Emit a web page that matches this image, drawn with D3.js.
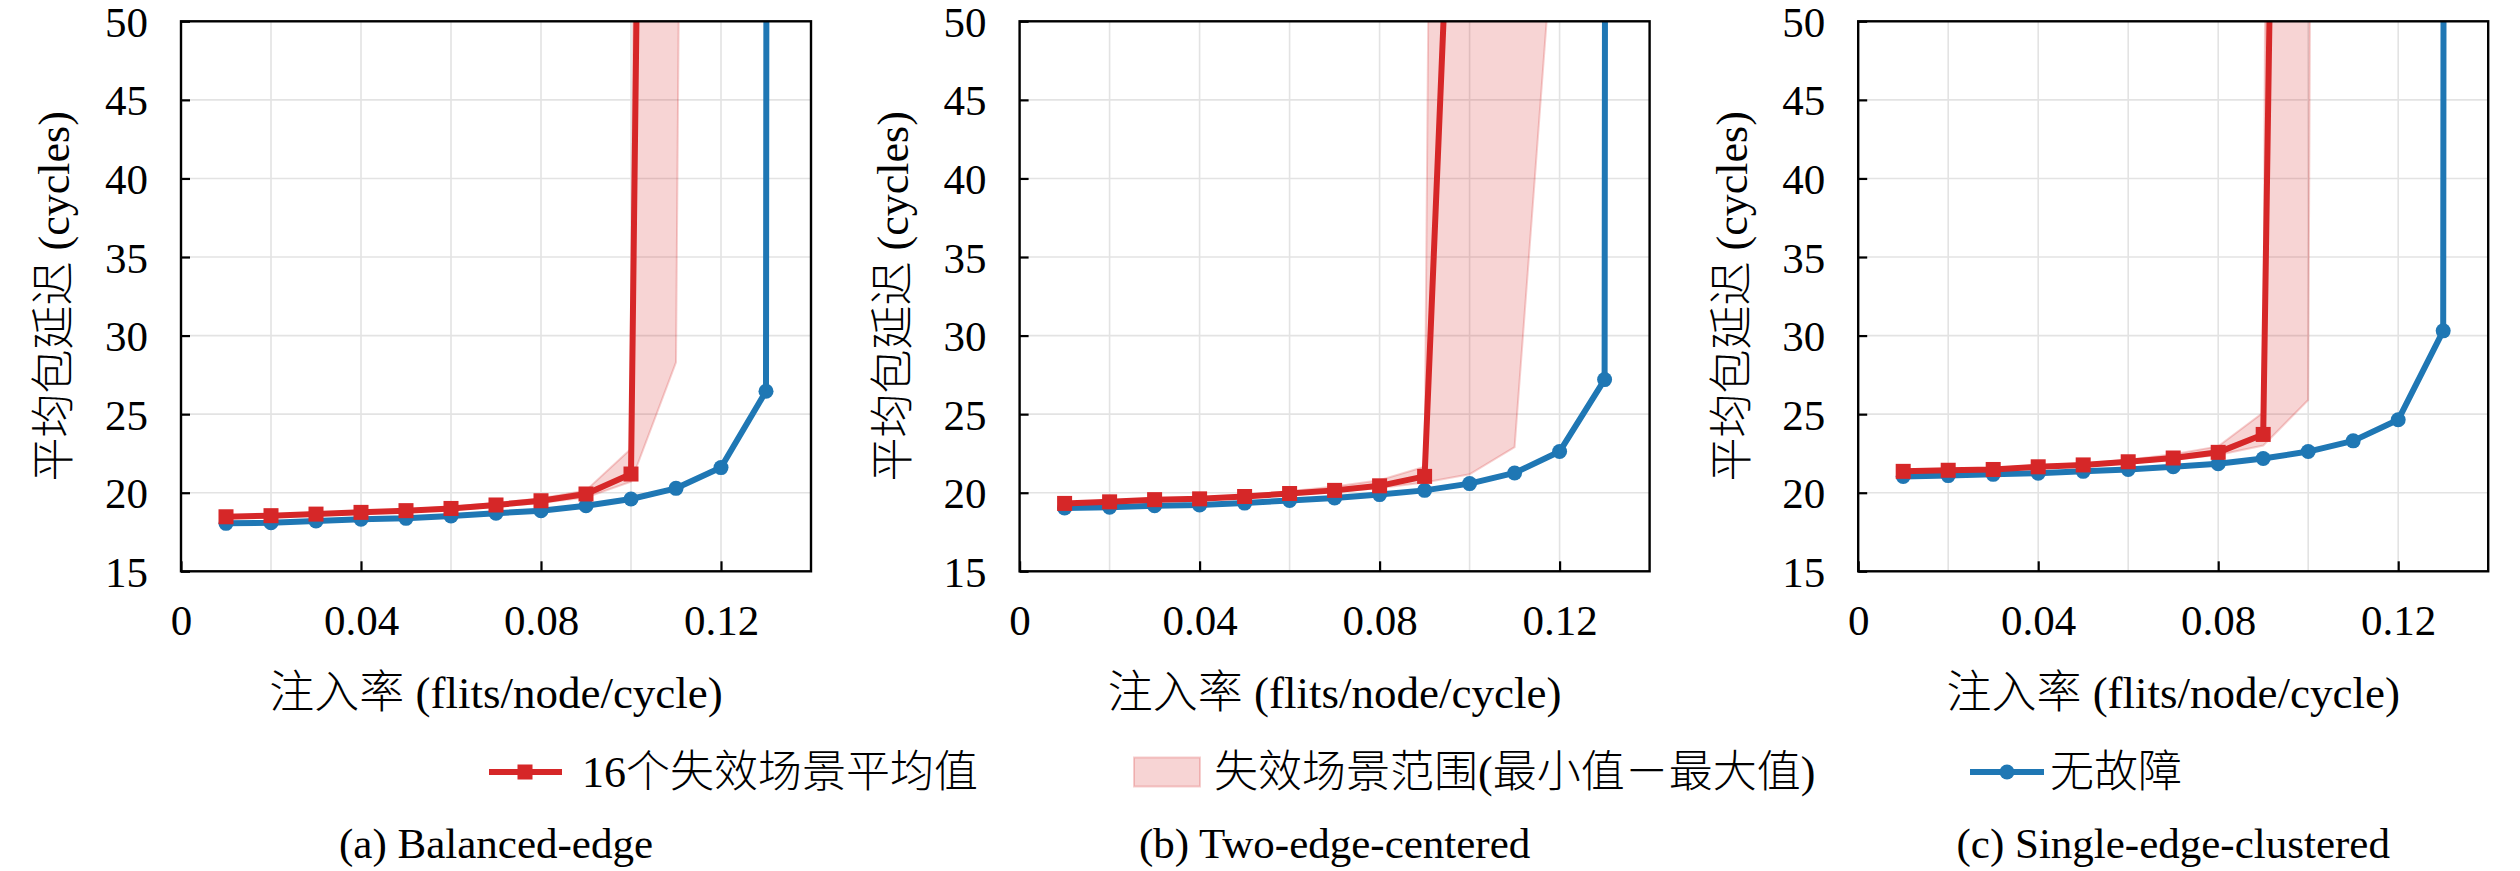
<!DOCTYPE html>
<html>
<head>
<meta charset="utf-8">
<script src="https://cdn.jsdelivr.net/npm/d3@7"></script>
<style>
  html, body { margin: 0; padding: 0; background: #fff; }
</style>
</head>
<body>
<svg id="chart" width="2520" height="871"></svg>
<script>
// ---------------- data ----------------
const rates = [0.01, 0.02, 0.03, 0.04, 0.05, 0.06, 0.07, 0.08, 0.09, 0.10, 0.11, 0.12, 0.13, 0.14];

const panelTitles = ["(a) Balanced-edge", "(b) Two-edge-centered", "(c) Single-edge-clustered"];

// fault-free (无故障) latency, panel a/b/c (last point saturated)
const faultFreeA = [18.05, 18.09, 18.2, 18.31, 18.37, 18.52, 18.69, 18.86, 19.17, 19.6, 20.28, 21.6, 26.46, 3000];
const faultFreeB = [19.03, 19.08, 19.17, 19.22, 19.34, 19.51, 19.66, 19.88, 20.15, 20.58, 21.26, 22.62, 27.2, 3000];
const faultFreeC = [21.04, 21.09, 21.17, 21.24, 21.36, 21.48, 21.65, 21.84, 22.18, 22.62, 23.3, 24.64, 30.3, 3000];

// mean of 16 failure scenarios (16个失效场景平均值)
const meanA = [18.47, 18.54, 18.64, 18.75, 18.86, 19.0, 19.22, 19.49, 19.92, 21.19, 260];
const meanB = [19.32, 19.42, 19.56, 19.61, 19.76, 19.95, 20.15, 20.44, 21.04, 90];
const meanC = [21.36, 21.43, 21.48, 21.65, 21.77, 21.97, 22.21, 22.57, 23.71, 214];

// range of failure scenarios (min / max)
const minA = [18.4, 18.47, 18.57, 18.67, 18.78, 18.9, 19.1, 19.35, 19.7, 20.7, 28.3, 400];
const maxA = [18.55, 18.62, 18.72, 18.83, 18.95, 19.1, 19.35, 19.65, 20.15, 22.8, 600, 1000];
const minB = [19.25, 19.35, 19.48, 19.53, 19.68, 19.85, 20.05, 20.3, 20.65, 21.17, 22.9, 61];
const maxB = [19.4, 19.5, 19.63, 19.7, 19.85, 20.1, 20.4, 20.8, 21.65, 375, 600, 800];
const minC = [21.3, 21.36, 21.42, 21.58, 21.7, 21.88, 22.1, 22.4, 23.0, 25.9, 650];
const maxC = [21.45, 21.52, 21.58, 21.75, 21.88, 22.1, 22.45, 22.95, 25.1, 650, 900];

const xTicks = [0, 0.04, 0.08, 0.12];
const xGrid = [0.02, 0.04, 0.06, 0.08, 0.10, 0.12];
const yTicks = [15, 20, 25, 30, 35, 40, 45, 50];

const legendLabels = ["16个失效场景平均值", "失效场景范围(最小值－最大值)", "无故障"];
const xLabel = "注入率 (flits/node/cycle)";
const yLabel = "平均包延迟 (cycles)";

// ---------------- layout / style ----------------
const FONT = '"Liberation Serif", "Noto Sans CJK SC", serif';
const RED = "#d62728", BLUE = "#1f77b4";
const panelLefts = [181, 1019.6, 1858.2];
const plotW = 630, plotTop = 21.3, plotBottom = 571.3;
const LW = 6, SQ = 15, CR = 7.5;

const panels = [
  { ff: faultFreeA, mean: meanA, min: minA, max: maxA },
  { ff: faultFreeB, mean: meanB, min: minB, max: maxB },
  { ff: faultFreeC, mean: meanC, min: minC, max: maxC },
];

const svg = d3.select("#chart");

function styleText(sel, size) {
  return sel.attr("font-family", FONT).style("font-family", FONT)
    .style("font-size", size + "px").attr("fill", "#000").style("font-weight", 300);
}

panels.forEach((p, i) => {
  const left = panelLefts[i];
  const x = d3.scaleLinear().domain([0, 0.14]).range([left, left + plotW]);
  const y = d3.scaleLinear().domain([15, 50]).range([plotBottom, plotTop]);
  const g = svg.append("g");

  const clipId = "clip" + i;
  svg.append("clipPath").attr("id", clipId)
    .append("rect").attr("x", left).attr("y", plotTop).attr("width", plotW).attr("height", plotBottom - plotTop);

  // grid
  g.append("g").selectAll("line").data(xGrid).join("line")
    .attr("x1", d => x(d)).attr("x2", d => x(d)).attr("y1", plotTop).attr("y2", plotBottom)
    .attr("stroke", "#e3e3e3").attr("stroke-width", 1.6);
  g.append("g").selectAll("line").data(yTicks.slice(1, -1)).join("line")
    .attr("x1", left).attr("x2", left + plotW).attr("y1", d => y(d)).attr("y2", d => y(d))
    .attr("stroke", "#e3e3e3").attr("stroke-width", 1.6);

  const plot = g.append("g").attr("clip-path", `url(#${clipId})`);

  // range band
  const band = p.min.map((v, k) => ({ x: rates[k], lo: v, hi: p.max[k] }));
  plot.append("path").datum(band)
    .attr("d", d3.area().x(d => x(d.x)).y0(d => y(d.lo)).y1(d => y(d.hi)))
    .attr("fill", RED).attr("fill-opacity", 0.2)
    .attr("stroke", RED).attr("stroke-opacity", 0.22).attr("stroke-width", 2);

  // fault-free line
  const ffData = p.ff.map((v, k) => ({ x: rates[k], y: v }));
  plot.append("path").datum(ffData)
    .attr("d", d3.line().x(d => x(d.x)).y(d => y(d.y)))
    .attr("fill", "none").attr("stroke", BLUE).attr("stroke-width", LW).attr("stroke-linejoin", "round");
  plot.append("g").selectAll("circle").data(ffData.filter(d => d.y <= 50)).join("circle")
    .attr("cx", d => x(d.x)).attr("cy", d => y(d.y)).attr("r", CR).attr("fill", BLUE);

  // mean line
  const mData = p.mean.map((v, k) => ({ x: rates[k], y: v }));
  plot.append("path").datum(mData)
    .attr("d", d3.line().x(d => x(d.x)).y(d => y(d.y)))
    .attr("fill", "none").attr("stroke", RED).attr("stroke-width", LW).attr("stroke-linejoin", "round");
  plot.append("g").selectAll("rect").data(mData.filter(d => d.y <= 50)).join("rect")
    .attr("x", d => x(d.x) - SQ / 2).attr("y", d => y(d.y) - SQ / 2).attr("width", SQ).attr("height", SQ).attr("fill", RED);

  // axes
  const xAxis = d3.axisBottom(x).tickValues(xTicks).tickSize(-10).tickPadding(0)
    .tickFormat(d => d === 0 ? "0" : d3.format(".2f")(d));
  const xa = g.append("g").attr("transform", `translate(0,${plotBottom})`).call(xAxis)
    .attr("font-family", FONT);
  xa.select(".domain").remove();
  xa.selectAll("line").attr("stroke", "#000").attr("stroke-width", 2.2);
  styleText(xa.selectAll("text").attr("y", 620 - plotBottom).attr("dy", "0.35em"), 43);

  const yAxis = d3.axisLeft(y).tickValues(yTicks).tickSize(-9).tickPadding(33);
  const ya = g.append("g").attr("transform", `translate(${left},0)`).call(yAxis)
    .attr("font-family", FONT);
  ya.select(".domain").remove();
  ya.selectAll("line").attr("stroke", "#000").attr("stroke-width", 2.2);
  styleText(ya.selectAll("text").attr("dy", "0.35em"), 43);

  // frame
  g.append("rect").attr("x", left).attr("y", plotTop).attr("width", plotW).attr("height", plotBottom - plotTop)
    .attr("fill", "none").attr("stroke", "#000").attr("stroke-width", 2.4);

  // axis labels
  styleText(g.append("text").attr("x", left + plotW / 2).attr("y", 692).attr("dy", "0.35em")
    .attr("text-anchor", "middle").text(xLabel), 45);
  styleText(g.append("text").attr("transform", `translate(${left - 127},${(plotTop + plotBottom) / 2}) rotate(-90)`)
    .attr("dy", "0.35em").attr("text-anchor", "middle").text(yLabel), 44);

  // caption (baseline placed so descenders stay inside the picture)
  styleText(g.append("text").attr("x", left + plotW / 2).attr("y", 858)
    .attr("text-anchor", "middle").text(panelTitles[i]), 43);
});

// ---------------- legend ----------------
const ly = 772;
const lg = svg.append("g");
// mean
lg.append("line").attr("x1", 489).attr("x2", 562).attr("y1", ly).attr("y2", ly)
  .attr("stroke", RED).attr("stroke-width", LW);
lg.append("rect").attr("x", 525 - SQ / 2).attr("y", ly - SQ / 2).attr("width", SQ).attr("height", SQ).attr("fill", RED);
styleText(lg.append("text").attr("x", 582).attr("y", ly).attr("dy", "0.35em").text(legendLabels[0]), 44);
// band
lg.append("rect").attr("x", 1134).attr("y", ly - 14.5).attr("width", 66).attr("height", 29)
  .attr("fill", RED).attr("fill-opacity", 0.2).attr("stroke", RED).attr("stroke-opacity", 0.22).attr("stroke-width", 2);
styleText(lg.append("text").attr("x", 1214).attr("y", ly).attr("dy", "0.35em").text(legendLabels[1]), 44);
// fault-free
lg.append("line").attr("x1", 1970).attr("x2", 2044).attr("y1", ly).attr("y2", ly)
  .attr("stroke", BLUE).attr("stroke-width", LW);
lg.append("circle").attr("cx", 2007).attr("cy", ly).attr("r", CR).attr("fill", BLUE);
styleText(lg.append("text").attr("x", 2050).attr("y", ly).attr("dy", "0.35em").text(legendLabels[2]), 44);
</script>
</body>
</html>
